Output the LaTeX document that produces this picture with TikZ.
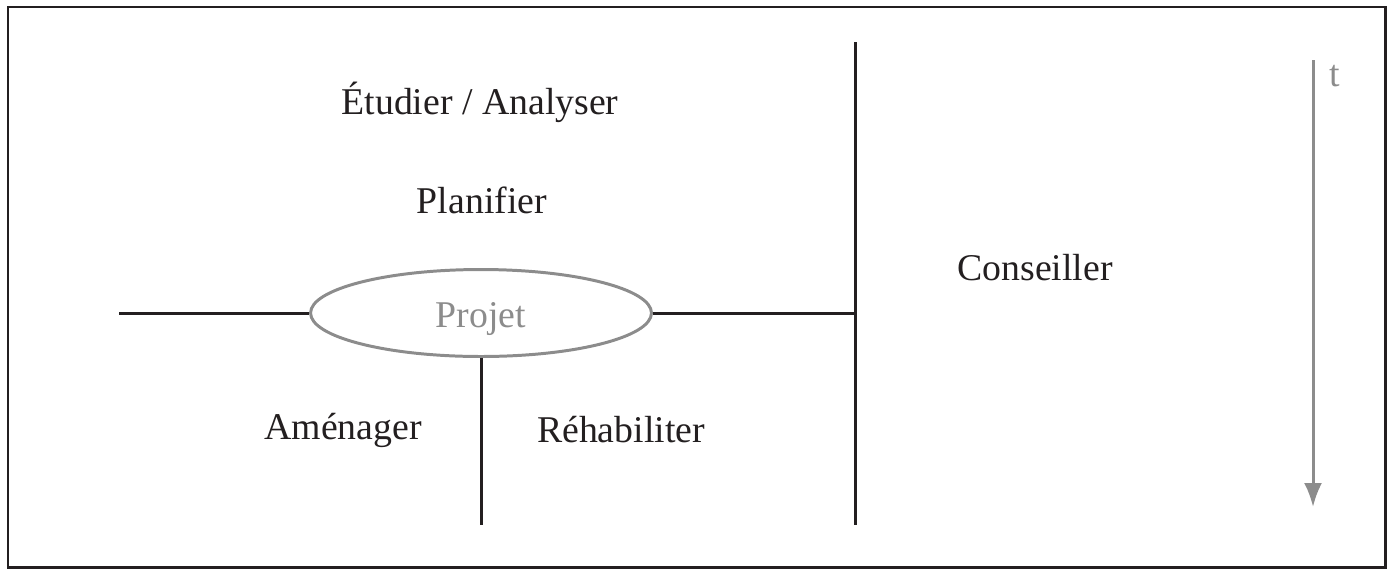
\documentclass[tikz,border=0pt]{standalone}
\usepackage{fontspec}
\setmainfont{Liberation Serif}
\usetikzlibrary{arrows.meta,positioning,shapes.geometric}
\definecolor{encre}{HTML}{231F20}
\definecolor{gris}{HTML}{8C8C8C}
\tikzset{
    >={Latex[length=0.48cm,width=0.36cm]},
    etiq/.style={
           text=encre,
           font=\fontsize{21.5}{26}\selectfont,
           inner sep=0pt},
    trait/.style={
           draw=encre,
           line width=1.7pt},
    bulle/.style={
           ellipse,
           draw=gris,
           line width=1.7pt,
           minimum width=6.82cm,
           minimum height=1.74cm,
           inner sep=0pt,
           text=gris,
           font=\fontsize{21.5}{26}\selectfont}
}
\begin{document}
\begin{tikzpicture}[x=0.02cm, y=-0.02cm]
        \useasboundingbox (0,0) rectangle (1391,569);
        \draw[trait] (8,7) rectangle (1385,567);

        \node[bulle] (proj) at (481,313) {\raisebox{-3pt}[0.7em][0.22em]{Projet}};
        \coordinate (gauche) at (119,313);
        \coordinate (haut) at (855,42);
        \coordinate (bas) at (855,525);
        \coordinate (milieu) at (855,313);
        \coordinate (pied) at (481,525);

        \node[etiq] (etud) at (480,102) {Étudier / Analyser};
        \node[etiq] (plan) at (482,200) {Planifier};
        \node[etiq] (cons) at (1035,268) {Conseiller};
        \node[etiq] (amen) at (343,430) {Aménager};
        \node[etiq] (rehab) at (621,430) {Réhabiliter};

        \draw[trait] (haut) -- (bas);
        \draw[trait] (gauche) -- (proj.west);
        \draw[trait] (proj.east) -- (milieu);
        \draw[trait] (proj.south) -- (pied);

        % axe du temps
        \coordinate (t0) at (1313,60);
        \coordinate (t1) at (1313,507);
        \draw[->, draw=gris, fill=gris, line width=1.7pt] (t0) -- (t1);
        \node[etiq, text=gris] (temps) at (1335,76) {t};
\end{tikzpicture}
\end{document}
